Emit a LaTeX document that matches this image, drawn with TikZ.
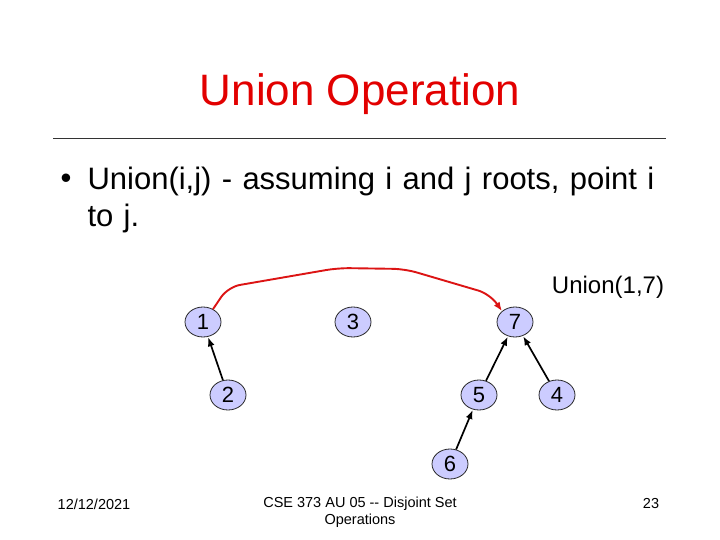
\documentclass[tikz,border=0pt]{standalone}
\usepackage{fontspec}
\setmainfont{Liberation Sans}
\usetikzlibrary{shapes.geometric,arrows.meta}
\definecolor{titlered}{RGB}{226,0,0}
\definecolor{nodefill}{RGB}{204,204,255}
\definecolor{curvered}{RGB}{220,20,20}
\tikzset{
  vtx/.style={ellipse,draw=black!85,line width=0.8pt,fill=nodefill,minimum width=36pt,minimum height=30pt,inner sep=0pt,font=\fontsize{22}{22}\selectfont},
  ptr/.style={-{Latex[length=9pt,width=7pt]},line width=1.7pt,black,shorten >=0.5pt},
  foot/.style={font=\fontsize{14.5}{17}\selectfont,align=center}
}
\begin{document}
\begin{tikzpicture}[x=1pt,y=-1pt]
\useasboundingbox (0,0) rectangle (720,540);
\node[text=titlered,font=\fontsize{44}{44}\selectfont] (title) at (360,94) {Union Operation};
\draw[line width=0.7pt,black!80] (53,138) -- (666,138);
\node[anchor=west,font=\fontsize{31}{31}\selectfont] (bul) at (57,181) {\textbullet};
\node[anchor=west,font=\fontsize{31}{37}\selectfont,align=left,text width=600pt] (body) at (84,199.5) {Union(i,j) - assuming i and j roots, point i\\ to j.};
\node[font=\fontsize{24}{24}\selectfont] (lab) at (608,287) {Union(1,7)};
\node[vtx] (n1) at (203,322) {1};
\node[vtx] (n3) at (353,322) {3};
\node[vtx] (n7) at (515,322) {7};
\node[vtx] (n2) at (228,395) {2};
\node[vtx] (n5) at (479,395) {5};
\node[vtx] (n4) at (557,395) {4};
\node[vtx] (n6) at (450,464) {6};
\draw[ptr] (n2) -- (n1);
\draw[ptr] (n5) -- (n7);
\draw[ptr] (n4) -- (n7);
\draw[ptr] (n6) -- (n5);
\draw[curvered,line width=1.9pt,-{Latex[length=9pt,width=7pt]},rounded corners=12pt]
  (n1.north east) ++(-3pt,2pt) coordinate (cs) (cs) -- (228,287) -- (338,268) -- (405,269) -- (490,294) -- (n7.north west);
\node[foot] (date) at (94,504) {12/12/2021};
\node[foot] (course) at (360,512) {CSE 373 AU 05 -{}- Disjoint Set\\Operations};
\node[foot] (page) at (651,504) {23};
\end{tikzpicture}
\end{document}
